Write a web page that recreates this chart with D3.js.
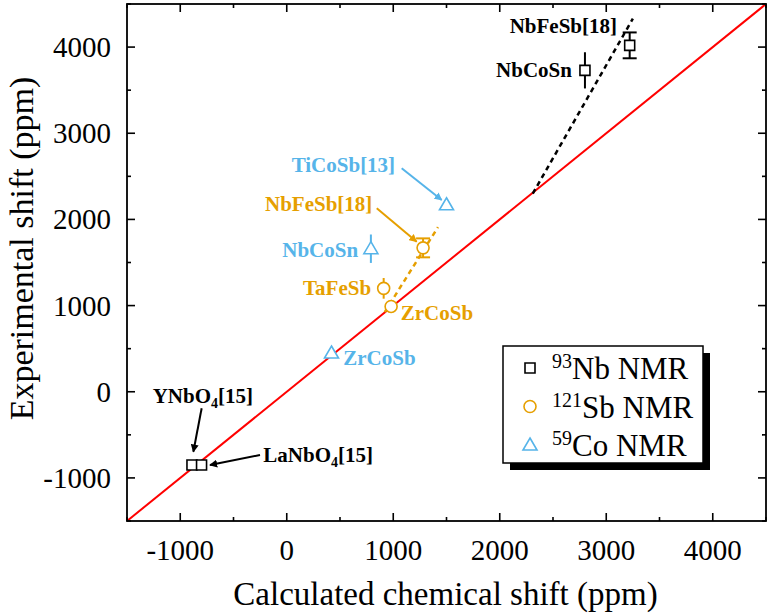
<!DOCTYPE html>
<html>
<head>
<meta charset="utf-8">
<script src="https://cdn.jsdelivr.net/npm/d3@7"></script>
<style>
  body { margin: 0; background: #fff; }
  text { font-family: "Liberation Serif", "Times New Roman", serif; }
  .lbl { font-weight: bold; font-size: 21px; }
</style>
</head>
<body>
<div id="chart"></div>
<script>
// colours of the three nuclei
const nbColor = "#000000";
const sbColor = "#E69F00";
const coColor = "#56B4E9";

// 93Nb points: calculated vs experimental shift (ppm)
const nbCalc = [3220, 2800, -890, -800];
const nbExp = [4020, 3730, -850, -850];
const nbErr = [150, 210, 0, 0];
const nbCap = [true, false, false, false];

// 121Sb points
const sbCalc = [1280, 910, 980];
const sbExp = [1670, 1200, 990];
const sbErr = [110, 120, 0];
const sbCap = [true, false, false];

// 59Co points
const coCalc = [1500, 790, 420];
const coExp = [2170, 1660, 450];
const coErr = [0, 165, 0];
const coCap = [false, false, false];

// dashed trend segments
const nbTrendX = [2310, 3250];
const nbTrendY = [2300, 4330];
const sbTrendX = [920, 1420];
const sbTrendY = [925, 1910];

// axis ticks
const majorTicks = [-1000, 0, 1000, 2000, 3000, 4000];
const minorTicks = [-1500, -500, 500, 1500, 2500, 3500, 4500];

// text labels: text, x, y, colour, anchor
const labelText = ["NbFeSb[18]", "NbCoSn", "TiCoSb[13]", "NbFeSb[18]", "NbCoSn", "TaFeSb", "ZrCoSb", "ZrCoSb", "YNbO", "LaNbO"];
const labelX = [3101, 2678, 46, -204, -42, 153, 1070, 531, -1259, -220];
const labelY = [4163, 3653, 2554, 2101, 1560, 1123, 833, 311, -130, -812];
const labelColor = [nbColor, nbColor, coColor, sbColor, coColor, sbColor, sbColor, coColor, nbColor, nbColor];
const labelAnchor = ["end", "end", "start", "start", "start", "start", "start", "start", "start", "start"];

// arrows (data coords): from -> to
const arrowX1 = [1079, 845, -799, -251];
const arrowY1 = [2593, 2129, -192, -734];
const arrowX2 = [1455, 1220, -877, -721];
const arrowY2 = [2225, 1742, -696, -850];
const arrowColor = [coColor, sbColor, nbColor, nbColor];

const W = 768, H = 614;
const margin = { top: 4, right: 2, bottom: 93, left: 127 };
const width = W - margin.left - margin.right;
const height = H - margin.top - margin.bottom;

const svg = d3.select("#chart").append("svg")
  .attr("width", W).attr("height", H);

const defs = svg.append("defs");
["black", "orange", "blue"].forEach((n, i) => {
  defs.append("marker")
    .attr("id", "arr-" + n)
    .attr("viewBox", "0 0 10 10")
    .attr("refX", 9).attr("refY", 5)
    .attr("markerWidth", 8).attr("markerHeight", 8)
    .attr("markerUnits", "userSpaceOnUse")
    .attr("orient", "auto")
    .append("path")
    .attr("d", "M0,0 L10,5 L0,10 z")
    .attr("fill", [nbColor, sbColor, coColor][i]);
});
defs.append("clipPath").attr("id", "clip")
  .append("rect").attr("width", width).attr("height", height);

const g = svg.append("g")
  .attr("transform", `translate(${margin.left},${margin.top})`);

const x = d3.scaleLinear().domain([-1500, 4500]).range([0, width]);
const y = d3.scaleLinear().domain([-1500, 4500]).range([height, 0]);

// y = x reference line
g.append("line")
  .attr("clip-path", "url(#clip)")
  .attr("x1", x(-1500)).attr("y1", y(-1500))
  .attr("x2", x(4500)).attr("y2", y(4500))
  .attr("stroke", "#ff0000").attr("stroke-width", 2);

// dashed trend lines
function dashed(xs, ys, col) {
  g.append("line")
    .attr("x1", x(xs[0])).attr("y1", y(ys[0]))
    .attr("x2", x(xs[1])).attr("y2", y(ys[1]))
    .attr("stroke", col).attr("stroke-width", 2.5)
    .attr("stroke-dasharray", "5,4");
}
dashed(nbTrendX, nbTrendY, nbColor);
dashed(sbTrendX, sbTrendY, sbColor);

// arrows
const arrowName = { [nbColor]: "black", [sbColor]: "orange", [coColor]: "blue" };
arrowX1.forEach((v, i) => {
  g.append("line")
    .attr("x1", x(v)).attr("y1", y(arrowY1[i]))
    .attr("x2", x(arrowX2[i])).attr("y2", y(arrowY2[i]))
    .attr("stroke", arrowColor[i]).attr("stroke-width", 2)
    .attr("marker-end", `url(#arr-${arrowName[arrowColor[i]]})`);
});

// error bars + markers
function series(cx, cy, err, cap, col, shape) {
  const pts = cx.map((v, i) => ({ x: v, y: cy[i], e: err[i], cap: cap[i] }));
  pts.filter(d => d.e > 0).forEach(d => {
    g.append("line")
      .attr("x1", x(d.x)).attr("x2", x(d.x))
      .attr("y1", y(d.y - d.e)).attr("y2", y(d.y + d.e))
      .attr("stroke", col).attr("stroke-width", 2);
    if (d.cap) {
      [d.y - d.e, d.y + d.e].forEach(v => {
        g.append("line")
          .attr("x1", x(d.x) - 7).attr("x2", x(d.x) + 7)
          .attr("y1", y(v)).attr("y2", y(v))
          .attr("stroke", col).attr("stroke-width", 2);
      });
    }
  });
  g.selectAll(null).data(pts).enter().append("path")
    .attr("transform", d => `translate(${x(d.x)},${y(d.y)})`)
    .attr("d", shape)
    .attr("fill", "#fff").attr("stroke", col).attr("stroke-width", 1.6);
}
const sq = "M-5,-5 H5 V5 H-5 Z";
const circ = "M6,0 A6,6 0 1,1 -6,0 A6,6 0 1,1 6,0 Z";
const tri = "M0,-7 L7,5 L-7,5 Z";
series(nbCalc, nbExp, nbErr, nbCap, nbColor, sq);
series(sbCalc, sbExp, sbErr, sbCap, sbColor, circ);
series(coCalc, coExp, coErr, coCap, coColor, tri);

// labels
labelText.forEach((t, i) => {
  const tx = g.append("text").attr("class", "lbl")
    .attr("x", x(labelX[i])).attr("y", y(labelY[i]))
    .attr("fill", labelColor[i]).attr("text-anchor", labelAnchor[i]);
  if (t.endsWith("NbO")) {
    tx.append("tspan").text(t);
    tx.append("tspan").attr("dy", 5).attr("font-size", 14).text("4");
    tx.append("tspan").attr("dy", -5).text("[15]");
  } else {
    tx.text(t);
  }
});

// frame and ticks on all four sides
g.append("rect").attr("width", width).attr("height", height)
  .attr("fill", "none").attr("stroke", "#000").attr("stroke-width", 1.8);

function ticks(vals, len) {
  vals.forEach(v => {
    g.append("line").attr("x1", x(v)).attr("x2", x(v)).attr("y1", height).attr("y2", height - len).attr("stroke", "#000").attr("stroke-width", 1.6);
    g.append("line").attr("x1", x(v)).attr("x2", x(v)).attr("y1", 0).attr("y2", len).attr("stroke", "#000").attr("stroke-width", 1.6);
    g.append("line").attr("y1", y(v)).attr("y2", y(v)).attr("x1", 0).attr("x2", len).attr("stroke", "#000").attr("stroke-width", 1.6);
    g.append("line").attr("y1", y(v)).attr("y2", y(v)).attr("x1", width).attr("x2", width - len).attr("stroke", "#000").attr("stroke-width", 1.6);
  });
}
ticks(majorTicks, 8);
ticks(minorTicks, 4);

// tick labels
const fmt = d => (d < 0 ? "-" + Math.abs(d) : String(d));
g.selectAll(null).data(majorTicks).enter().append("text")
  .attr("x", d => x(d)).attr("y", height + 39)
  .attr("text-anchor", "middle").attr("font-size", 29).text(fmt);
g.selectAll(null).data(majorTicks).enter().append("text")
  .attr("x", -16).attr("y", d => y(d) + 10)
  .attr("text-anchor", "end").attr("font-size", 29).text(fmt);

// axis titles
g.append("text")
  .attr("x", width / 2 - 1).attr("y", height + 84)
  .attr("text-anchor", "middle").attr("font-size", 33)
  .text("Calculated chemical shift (ppm)");
g.append("text")
  .attr("transform", `translate(${-94},${height / 2 - 14}) rotate(-90)`)
  .attr("text-anchor", "middle").attr("font-size", 34)
  .text("Experimental shift (ppm)");

// legend with shadow
const lg = svg.append("g").attr("transform", "translate(503,346)");
lg.append("rect").attr("x", 7).attr("y", 7).attr("width", 200).attr("height", 117).attr("fill", "#000");
lg.append("rect").attr("width", 200).attr("height", 117).attr("fill", "#fff").attr("stroke", "#000").attr("stroke-width", 1.5);
const legSup = ["93", "121", "59"];
const legName = ["Nb NMR", "Sb NMR", "Co NMR"];
const legShape = [sq, circ, tri];
const legCol = [nbColor, sbColor, coColor];
legName.forEach((n, i) => {
  const yy = 22 + i * 38.5;
  lg.append("path").attr("transform", `translate(27,${yy})`).attr("d", legShape[i])
    .attr("fill", "#fff").attr("stroke", legCol[i]).attr("stroke-width", 1.6);
  const t = lg.append("text").attr("x", 49).attr("y", yy + 11).attr("font-size", 31);
  t.append("tspan").attr("font-size", 20).attr("dy", -11).text(legSup[i]);
  t.append("tspan").attr("dy", 11).text(n);
});
</script>
</body>
</html>
